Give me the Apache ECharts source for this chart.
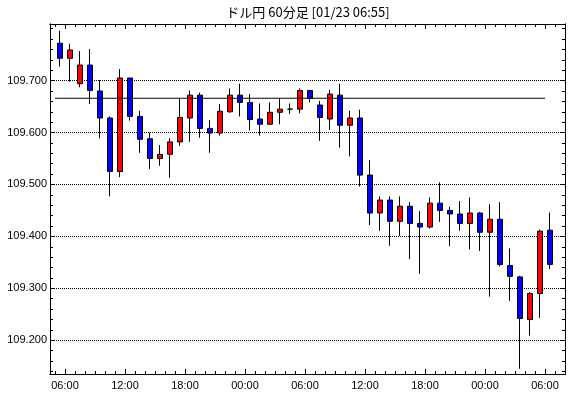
<!DOCTYPE html>
<html lang="ja">
<head>
<meta charset="UTF-8">
<title>ドル円 60分足</title>
<script src="https://cdn.jsdelivr.net/npm/echarts@6/dist/echarts.min.js"></script>
<style>
  html, body { margin: 0; padding: 0; background: #fff; }
  #main { width: 570px; height: 398px; }
</style>
</head>
<body>
<div id="main"></div>
<script>
  // 1時間足 (01/21 05:00 - 01/23 06:00)
  var times = [
    '01/21 05:00', '01/21 06:00', '01/21 07:00', '01/21 08:00', '01/21 09:00',
    '01/21 10:00', '01/21 11:00', '01/21 12:00', '01/21 13:00', '01/21 14:00',
    '01/21 15:00', '01/21 16:00', '01/21 17:00', '01/21 18:00', '01/21 19:00',
    '01/21 20:00', '01/21 21:00', '01/21 22:00', '01/21 23:00', '01/22 00:00',
    '01/22 01:00', '01/22 02:00', '01/22 03:00', '01/22 04:00', '01/22 05:00',
    '01/22 06:00', '01/22 07:00', '01/22 08:00', '01/22 09:00', '01/22 10:00',
    '01/22 11:00', '01/22 12:00', '01/22 13:00', '01/22 14:00', '01/22 15:00',
    '01/22 16:00', '01/22 17:00', '01/22 18:00', '01/22 19:00', '01/22 20:00',
    '01/22 21:00', '01/22 22:00', '01/22 23:00', '01/23 00:00', '01/23 01:00',
    '01/23 02:00', '01/23 03:00', '01/23 04:00', '01/23 05:00', '01/23 06:00'
  ];
  var open = [
    109.772, 109.743, 109.694, 109.730, 109.680, 109.628, 109.525, 109.705, 109.631, 109.588,
    109.550, 109.558, 109.582, 109.628, 109.672, 109.608, 109.599, 109.640, 109.672, 109.658,
    109.626, 109.616, 109.639, 109.645, 109.645, 109.681, 109.653, 109.626, 109.672, 109.614,
    109.628, 109.518, 109.445, 109.470, 109.429, 109.458, 109.425, 109.418, 109.464, 109.450,
    109.443, 109.425, 109.445, 109.408, 109.433, 109.344, 109.322, 109.240, 109.290, 109.412
  ];
  var close = [
    109.743, 109.759, 109.730, 109.681, 109.628, 109.525, 109.705, 109.631, 109.587, 109.550,
    109.558, 109.582, 109.629, 109.672, 109.608, 109.599, 109.641, 109.672, 109.658, 109.625,
    109.616, 109.639, 109.645, 109.645, 109.681, 109.666, 109.629, 109.674, 109.614, 109.628,
    109.518, 109.445, 109.470, 109.429, 109.458, 109.425, 109.418, 109.464, 109.450, 109.443,
    109.425, 109.445, 109.408, 109.433, 109.346, 109.323, 109.242, 109.290, 109.410, 109.346
  ];
  var low = [
    109.727, 109.698, 109.687, 109.655, 109.589, 109.477, 109.514, 109.623, 109.561, 109.530,
    109.536, 109.513, 109.574, 109.582, 109.590, 109.561, 109.594, 109.638, 109.631, 109.604,
    109.594, 109.616, 109.616, 109.636, 109.637, 109.658, 109.584, 109.605, 109.571, 109.554,
    109.496, 109.422, 109.411, 109.382, 109.401, 109.356, 109.328, 109.415, 109.428, 109.381,
    109.411, 109.375, 109.372, 109.284, 109.342, 109.276, 109.145, 109.209, 109.243, 109.337
  ];
  var high = [
    109.796, 109.771, 109.757, 109.761, 109.701, 109.631, 109.722, 109.705, 109.642, 109.600,
    109.576, 109.589, 109.666, 109.681, 109.677, 109.624, 109.655, 109.685, 109.694, 109.674,
    109.656, 109.658, 109.665, 109.656, 109.685, 109.681, 109.661, 109.682, 109.694, 109.642,
    109.644, 109.547, 109.477, 109.477, 109.477, 109.466, 109.449, 109.475, 109.504, 109.457,
    109.468, 109.475, 109.447, 109.462, 109.466, 109.377, 109.324, 109.293, 109.413, 109.446
  ];

  // 水平線
  var refLevel = 109.666;
  var refFrom = 5, refTo = 54; // 時間 (01/21 00:00 起点)

  // 目盛り
  var xLabelHours = [6, 12, 18, 24, 30, 36, 42, 48, 54];
  var xLabels = ['06:00', '12:00', '18:00', '00:00', '06:00', '12:00', '18:00', '00:00', '06:00'];
  var yLabels = [109.2, 109.3, 109.4, 109.5, 109.6, 109.7];

  var yMin = 109.135, yMax = 109.809;
  var hMin = 4.5, hMax = 56;

  var xMinor = [];
  for (var h = 5; h < hMax; h++) xMinor.push(h);
  var yMinor = [];
  for (var k = 0; k <= 33; k++) yMinor.push(Math.round((109.14 + 0.02 * k) * 1000) / 1000);

  var candles = [];
  for (var i = 0; i < times.length; i++) {
    candles.push([open[i], close[i], low[i], high[i]]);
  }

  var black = '#000';
  var font = 'Liberation Sans';

  function hAxis(pos, ticks, len, label) {
    return {
      type: 'value', gridIndex: 1, position: pos, min: hMin, max: hMax,
      axisLine: { show: true, onZero: false, lineStyle: { color: black, width: 1 } },
      axisTick: { show: true, inside: true, length: len, customValues: ticks, lineStyle: { color: black } },
      axisLabel: label ? {
        show: true, customValues: xLabelHours, margin: 6,
        color: black, fontSize: 11, fontFamily: font,
        formatter: function (v) { return xLabels[xLabelHours.indexOf(v)]; }
      } : { show: false },
      splitLine: { show: false }
    };
  }
  function vAxis(pos, ticks, len, label) {
    return {
      type: 'value', gridIndex: 1, position: pos, min: yMin, max: yMax,
      axisLine: { show: true, onZero: false, lineStyle: { color: black, width: 1 } },
      axisTick: { show: true, inside: true, length: len, customValues: ticks, lineStyle: { color: black } },
      axisLabel: label ? {
        show: true, customValues: yLabels, margin: 3,
        color: black, fontSize: 11, fontFamily: font,
        formatter: function (v) { return v.toFixed(3); }
      } : { show: false },
      splitLine: label ? {
        show: true, lineStyle: { color: black, type: 'dotted', width: 1 }
      } : { show: false }
    };
  }

  var chart = echarts.init(document.getElementById('main'));
  chart.setOption({
    backgroundColor: '#fff',
    animation: false,
    title: {
      text: 'ドル円 60分足 [01/23 06:55]',
      left: 308, top: 6, padding: 0, textAlign: 'center',
      textStyle: { color: black, fontSize: 13, fontWeight: 'normal', fontFamily: 'Noto Sans CJK JP' }
    },
    grid: [
      { left: 55, top: 24, width: 500, height: 350 },
      { left: 50, top: 24, width: 515, height: 350 }
    ],
    xAxis: [
      { type: 'category', gridIndex: 0, data: times, boundaryGap: true, show: false },
      hAxis('bottom', xMinor, 3, false),
      hAxis('bottom', xLabelHours, 5, true),
      hAxis('top', xMinor, 3, false),
      hAxis('top', xLabelHours, 5, false)
    ],
    yAxis: [
      { type: 'value', gridIndex: 0, min: yMin, max: yMax, show: false, splitLine: { show: false } },
      vAxis('left', yMinor, 3, false),
      vAxis('left', yLabels, 5, true),
      vAxis('right', yMinor, 3, false),
      vAxis('right', yLabels, 5, false)
    ],
    series: [
      {
        type: 'candlestick',
        xAxisIndex: 0, yAxisIndex: 0,
        barWidth: 6,
        itemStyle: {
          color: '#ff0000', color0: '#0000ff',
          borderColor: black, borderColor0: black, borderColorDoji: black,
          borderWidth: 1
        },
        data: candles
      },
      {
        type: 'line',
        xAxisIndex: 1, yAxisIndex: 1,
        symbol: 'none', silent: true, z: 5,
        lineStyle: { color: black, width: 1 },
        data: [[refFrom, refLevel], [refTo, refLevel]]
      }
    ]
  });
</script>
</body>
</html>
